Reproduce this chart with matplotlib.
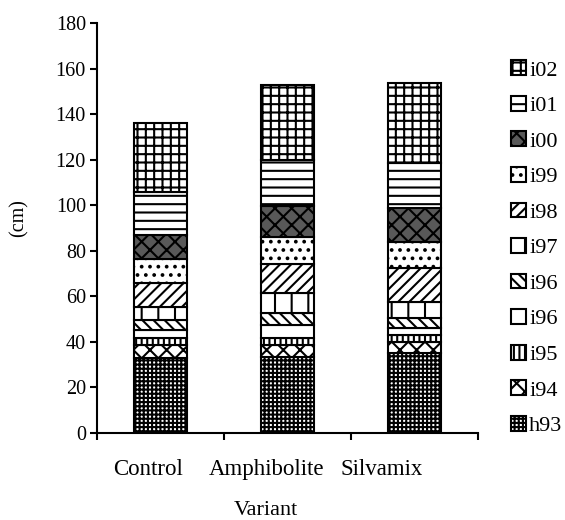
import numpy as np
import matplotlib
matplotlib.use("Agg")
import matplotlib.pyplot as plt

plt.rcParams['font.family'] = ['Liberation Serif', 'DejaVu Serif']
plt.rcParams['hatch.linewidth'] = 1.5

# data (cm), bottom to top of each stacked bar
variants = ["Control", "Amphibolite", "Silvamix"]
layers = ["h93", "i94", "i95", "i96", "i96", "i97", "i98", "i99", "i00", "i01", "i02"]
h93 = [32.8, 33.2, 35.0]
i94 = [5.8, 5.4, 5.1]
i95 = [3.0, 3.0, 2.9]
i96a = [3.6, 5.7, 3.0]
i96b = [4.4, 5.5, 4.4]
i97 = [5.6, 8.5, 7.3]
i98 = [10.5, 12.9, 14.6]
i99 = [10.6, 12.0, 11.7]
i00 = [10.6, 13.5, 14.7]
i01 = [19.0, 20.2, 19.7]
i02 = [30.3, 32.9, 35.1]
series = [h93, i94, i95, i96a, i96b, i97, i98, i99, i00, i01, i02]

hatches = ['++++', 'xx', '|||', '', '\\\\\\', '|', '///', '..', 'xx', '--', '++']
faces = ['white'] * 8 + ['0.35', 'white', 'white']

fig = plt.figure(figsize=(5.65, 5.2), dpi=100)
ax = fig.add_axes([97/565, 87/520, 381/565, 410/520])

x = np.arange(len(variants))
bottom = np.zeros(len(variants))
handles = []
for vals, name, h, fc in zip(series, layers, hatches, faces):
    b = ax.bar(x, vals, 0.42, bottom=bottom, color=fc, edgecolor='black',
               linewidth=1.5, hatch=h, label=name)
    handles.append(b)
    bottom += np.array(vals)

ax.set_xlim(-0.5, 2.5)
ax.set_ylim(0, 180)
ax.set_yticks(np.arange(0, 181, 20))
ax.tick_params(axis='y', labelsize=14.5, length=5, width=1.5, direction='out', pad=3)

# ticks between the bars, labels a bit shifted to the left as in the original
ax.set_xticks([-0.5, 0.5, 1.5, 2.5])
ax.set_xticklabels([])
ax.tick_params(axis='x', which='major', length=5, width=1.5, direction='out')
shift = np.array([-0.10, -0.165, -0.255])
ax.set_xticks(x + shift, minor=True)
ax.set_xticklabels(variants, minor=True, fontsize=16.5)
ax.tick_params(axis='x', which='minor', length=0, pad=19)

for s in ['top', 'right']:
    ax.spines[s].set_visible(False)
for s in ['left', 'bottom']:
    ax.spines[s].set_linewidth(1.5)

ax.set_xlabel("Variant", fontsize=16)
ax.xaxis.set_label_coords(0.444, -0.165)
ax.set_ylabel("(cm)", fontsize=14.5)
ax.yaxis.set_label_coords(-0.18, 0.525)

fig.legend(handles[::-1], layers[::-1], loc='upper left', bbox_to_anchor=(0.905, 0.884),
           frameon=False, fontsize=16, borderpad=0, borderaxespad=0,
           handlelength=0.65, handleheight=0.65, handletextpad=0.15, labelspacing=0.69)

fig.savefig("out.png", dpi=100)
